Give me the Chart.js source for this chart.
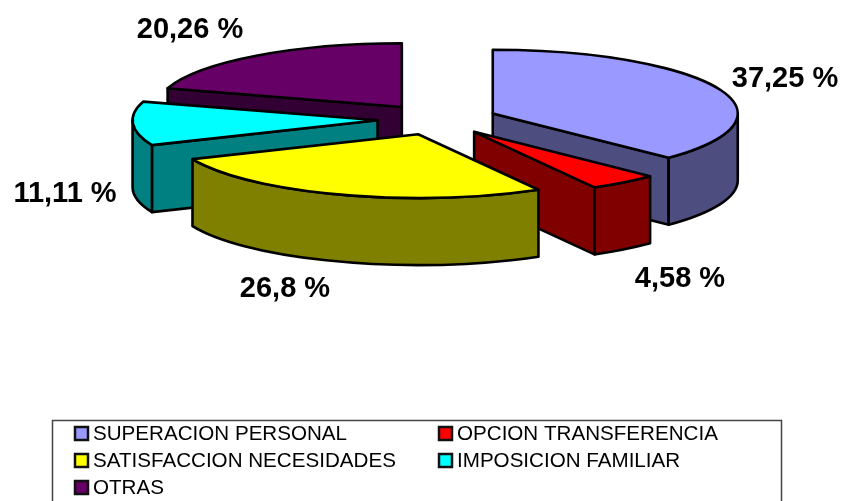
<!DOCTYPE html>
<html><head><meta charset="utf-8">
<style>html,body{margin:0;padding:0;background:#fff}canvas{display:block}</style>
<script src="https://cdn.jsdelivr.net/npm/chart.js@4"></script></head>
<body><canvas id="c" width="843" height="501"></canvas>
<script>
const categories = ['SUPERACION PERSONAL','OPCION TRANSFERENCIA','SATISFACCION NECESIDADES','IMPOSICION FAMILIAR','OTRAS'];
const percentages = [37.25, 4.58, 26.8, 11.11, 20.26];
const valueLabels = ['37,25 %','4,58 %','26,8 %','11,11 %','20,26 %'];
const topColors = ['#9999FF','#FF0000','#FFFF00','#00FFFF','#660066'];
const sideColors = ['#4D4D80','#800000','#808000','#008080','#330033'];
const paintOrder = [4,3,0,1,2];

const view = {cx:437.5, cy:119.5, squash:0.26, depth:67, radius:245, explode:60};
const labelSpots = [[785,79],[680,279],[285,289],[65,194],[190,30]];
const legendBox = {l:52.5, t:420.5, r:781.5, b:510};
const legendCols = [74, 438], legendRows = [434, 461, 488];

const pie3d = {
  id:'pie3d',
  beforeDatasetsDraw(chart){
    const ctx = chart.ctx, arcs = chart.getDatasetMeta(0).data;
    const k = view.squash, d = view.depth;
    paintOrder.forEach(i=>{
      const a = arcs[i];
      const mid = (a.startAngle+a.endAngle)/2;
      const off = view.explode;
      const ax = view.cx + Math.cos(mid)*off, ay = view.cy + Math.sin(mid)*off*k;
      const R = a.outerRadius;
      const px = t=>ax+Math.cos(t)*R, py = t=>ay+Math.sin(t)*R*k;
      ctx.save();
      ctx.lineWidth = 2.6; ctx.lineJoin='round'; ctx.strokeStyle='#000';
      ctx.fillStyle = sideColors[i];
      const face = t=>{
        ctx.beginPath(); ctx.moveTo(ax,ay); ctx.lineTo(px(t),py(t));
        ctx.lineTo(px(t),py(t)+d); ctx.lineTo(ax,ay+d); ctx.closePath();
        ctx.fill(); ctx.stroke();
      };
      if (Math.cos(a.startAngle) < -1e-6) face(a.startAngle);
      if (Math.cos(a.endAngle) > 1e-6) face(a.endAngle);
      const s = Math.max(a.startAngle,0), e = Math.min(a.endAngle,Math.PI);
      if (e > s){
        ctx.beginPath();
        ctx.ellipse(ax,ay,R,R*k,0,s,e);
        ctx.ellipse(ax,ay+d,R,R*k,0,e,s,true);
        ctx.closePath(); ctx.fill(); ctx.stroke();
      }
      // top face drawn by the library's own arc element, squashed
      ctx.save();
      ctx.translate(ax,ay);
      ctx.scale(1,k);
      ctx.translate(-a.x,-a.y);
      a.draw(ctx);
      ctx.restore();
      ctx.beginPath();
      ctx.moveTo(ax,ay);
      ctx.ellipse(ax,ay,R,R*k,0,a.startAngle,a.endAngle);
      ctx.closePath(); ctx.stroke();
      ctx.restore();
    });
    return false;
  },
  afterDraw(chart){
    const ctx = chart.ctx;
    ctx.save();
    ctx.fillStyle='#000'; ctx.textAlign='center'; ctx.textBaseline='middle';
    ctx.font='bold 29px "Liberation Sans"';
    valueLabels.forEach((t,i)=>ctx.fillText(t,labelSpots[i][0],labelSpots[i][1]));
    ctx.strokeStyle='#444'; ctx.lineWidth=1.5;
    ctx.strokeRect(legendBox.l,legendBox.t,legendBox.r-legendBox.l,legendBox.b-legendBox.t);
    ctx.font='20.6px "Liberation Sans"'; ctx.textAlign='left';
    categories.forEach((t,i)=>{
      const x=legendCols[i%2], y=legendRows[Math.floor(i/2)];
      ctx.fillStyle=topColors[i]; ctx.fillRect(x+1,y-7,13,13);
      ctx.strokeStyle='#111'; ctx.lineWidth=2.5; ctx.strokeRect(x+1,y-7,13,13);
      ctx.fillStyle='#000'; ctx.fillText(t,x+19,y);
    });
    ctx.restore();
  }
};

new Chart(document.getElementById('c'),{
  type:'pie',
  data:{labels:categories,datasets:[{data:percentages,backgroundColor:topColors,borderWidth:0}]},
  options:{responsive:false,animation:false,radius:view.radius,
    plugins:{legend:{display:false},tooltip:{enabled:false}},
    events:[]},
  plugins:[pie3d]
});
</script></body></html>
